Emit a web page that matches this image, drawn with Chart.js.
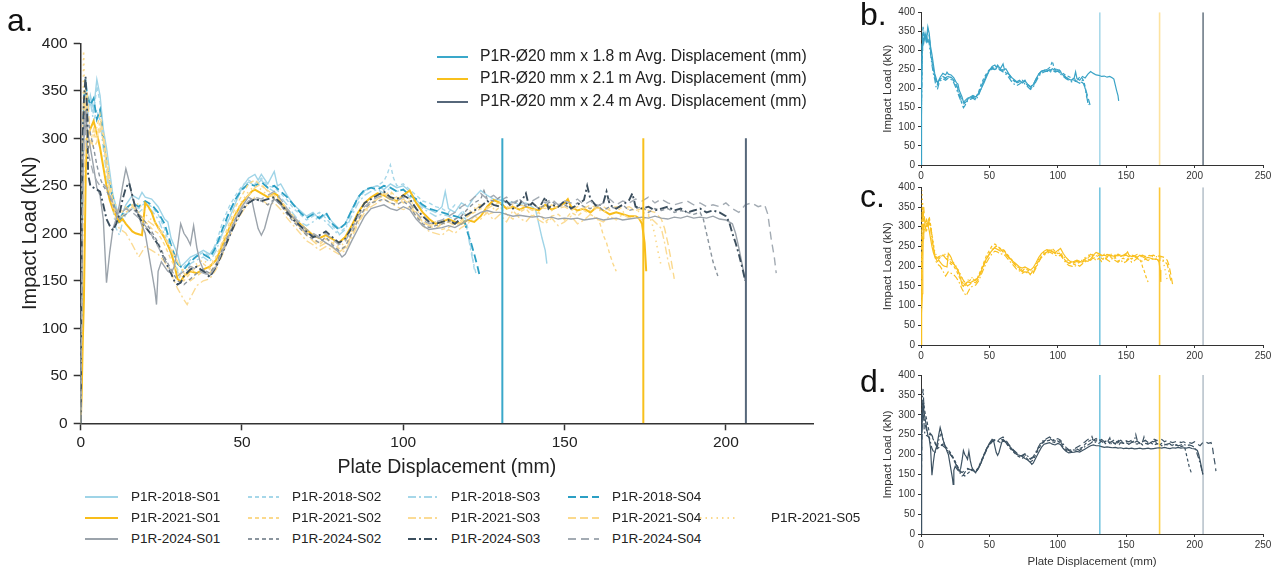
<!DOCTYPE html>
<html><head><meta charset="utf-8">
<script src="https://cdn.jsdelivr.net/npm/chart.js@4.4.1/dist/chart.umd.min.js"></script>
<style>
body{margin:0;width:1276px;height:570px;background:#fff;position:relative;overflow:hidden;font-family:"Liberation Sans",Arial,sans-serif;color:#222}
canvas{position:absolute}
.pl{position:absolute;font-size:32px;line-height:32px;color:#111}
.lg{position:absolute;white-space:nowrap;line-height:1}
svg{position:absolute}
</style></head><body>
<canvas id="cA" width="830" height="490" style="left:0;top:0"></canvas>
<canvas id="cB" width="426" height="190" style="left:850px;top:0"></canvas>
<canvas id="cC" width="426" height="192" style="left:850px;top:178px"></canvas>
<canvas id="cD" width="426" height="204" style="left:850px;top:366px"></canvas>
<div class="pl" style="left:7px;top:4px">a.</div>
<div class="pl" style="left:860px;top:-2px">b.</div>
<div class="pl" style="left:860px;top:180px">c.</div>
<div class="pl" style="left:860px;top:365px">d.</div>
<div id="legTop"></div>
<div id="legBottom"></div>
<script>
// ---------- DATA ----------
const xTicksMain = [0, 50, 100, 150, 200];
const xTicksSmall = [0, 50, 100, 150, 200, 250];
const yTicks = [0, 50, 100, 150, 200, 250, 300, 350, 400];
const avgDisp = [130.7, 174.4, 206.2];
const avgLabels = ['P1R-Ø20 mm x 1.8 m Avg. Displacement (mm)', 'P1R-Ø20 mm x 2.1 m Avg. Displacement (mm)', 'P1R-Ø20 mm x 2.4 m Avg. Displacement (mm)'];

const s2018_01 = [[0,0],[0.4,180],[0.8,300],[1.2,335],[2,320],[3,345],[4,330],[5,362],[6,345],[7,310],[8,290],[9,265],[10,240],[11,228],[12,215],[13,222],[14,230],[16,240],[18,236],[19,243],[20,238],[22,236],[24,228],[26,215],[27,212],[28,195],[30,178],[31,165],[32,168],[34,175],[36,178],[38,182],[40,178],[42,188],[44,200],[46,215],[48,232],[50,248],[52,258],[54,262],[55,256],[56,262],[58,252],[60,265],[61,250],[62,252],[64,240],[66,230],[68,224],[70,218],[72,222],[74,215],[76,220],[78,212],[80,205],[82,210],[84,225],[86,238],[88,245],[90,248],[92,250],[94,246],[96,252],[98,248],[100,250],[102,244],[104,235],[106,228],[108,225],[110,222],[112,228],[113,244],[114,226],[116,222],[118,232],[120,228],[122,238],[124,245],[126,240],[128,236],[130,235],[132,232],[134,233],[136,230],[138,232],[140,228],[141,225],[142,210],[143,195],[144,182],[144.5,168]];
const s2018_02 = [[0,0],[0.5,220],[1,310],[1.5,350],[2,330],[3,340],[4,325],[5,355],[6,338],[7,300],[8,270],[9,250],[10,232],[11,222],[12,210],[13,218],[14,225],[16,230],[18,226],[20,232],[22,228],[24,220],[26,205],[28,182],[29,170],[30,162],[31,158],[32,165],[34,172],[36,176],[38,180],[40,176],[42,190],[44,212],[46,228],[48,240],[50,250],[52,256],[54,252],[56,258],[58,250],[60,248],[62,242],[64,235],[66,226],[68,220],[70,214],[72,218],[74,222],[76,216],[78,208],[80,200],[82,206],[84,222],[86,236],[88,244],[90,248],[92,250],[94,255],[95,262],[96,272],[97,258],[98,250],[100,252],[102,246],[104,240],[106,234],[108,232],[110,228],[112,226],[114,222],[116,230],[118,226],[119,220],[120,205],[121,185],[122,162]];
const s2018_03 = [[0,0],[0.6,240],[1,320],[1.6,345],[2.4,330],[3,338],[4,318],[5,330],[6,318],[7,290],[8,262],[9,240],[10,225],[11,205],[12,198],[13,212],[14,220],[16,226],[18,222],[20,228],[22,224],[24,215],[26,198],[28,178],[30,160],[31,150],[32,155],[34,168],[36,172],[38,175],[40,170],[42,182],[44,200],[46,220],[48,236],[50,248],[52,254],[54,250],[56,256],[58,248],[60,244],[62,238],[64,230],[66,220],[68,212],[70,208],[72,212],[74,218],[76,212],[78,205],[80,198],[82,204],[84,218],[86,232],[88,240],[90,244],[92,246],[94,242],[96,248],[98,244],[100,246],[102,238],[104,232],[106,226],[108,222],[110,218],[112,220],[114,218],[116,214],[118,222],[119,215],[120,200],[121,180],[122,165],[122.5,158]];
const s2018_04 = [[0,0],[0.3,150],[0.7,290],[1,340],[1.5,362],[2,345],[3,335],[4,342],[5,320],[6,330],[7,300],[8,275],[9,252],[10,236],[11,218],[12,210],[13,220],[14,226],[16,232],[18,228],[20,234],[22,230],[24,222],[26,210],[28,188],[30,168],[32,162],[34,170],[36,176],[38,178],[40,174],[42,186],[44,205],[46,222],[48,236],[50,246],[52,252],[54,250],[56,254],[58,248],[60,250],[62,244],[64,238],[66,230],[68,222],[70,216],[72,220],[74,216],[76,222],[78,210],[80,204],[82,210],[84,224],[86,238],[88,246],[90,248],[92,246],[94,250],[96,248],[98,244],[100,246],[102,240],[104,236],[106,230],[108,226],[110,224],[112,222],[114,220],[116,218],[118,216],[119,212],[120,200],[121,190],[122,178],[123,165],[123.7,155]];

const s2021_01 = [[0,0],[0.3,30],[0.6,80],[1,130],[1.3,200],[1.6,270],[2,300],[3,310],[4,318],[5,305],[6,290],[7,270],[8,250],[9,235],[10,225],[11,218],[12,212],[13,215],[14,210],[15,206],[16,202],[17,200],[18,199],[19,198],[20,232],[21,228],[22,222],[23,212],[24,206],[26,195],[28,180],[29,168],[30,152],[31,149],[32,155],[34,160],[36,158],[38,162],[40,165],[42,172],[44,188],[46,205],[48,220],[50,232],[52,240],[53,244],[54,246],[56,242],[58,238],[60,242],[61,240],[62,232],[64,224],[66,216],[68,210],[70,204],[72,198],[74,195],[76,198],[78,194],[80,190],[82,196],[84,208],[86,222],[88,232],[90,238],[92,242],[94,240],[96,236],[98,234],[100,240],[102,245],[104,232],[106,222],[108,215],[110,210],[112,212],[114,215],[116,212],[118,210],[120,214],[122,212],[124,218],[126,228],[128,235],[130,232],[132,226],[134,228],[136,225],[138,228],[140,226],[142,224],[144,230],[146,225],[148,228],[150,232],[151,236],[152,228],[154,224],[156,226],[158,222],[160,228],[162,224],[164,220],[166,222],[168,220],[170,218],[172,218],[173,216],[174,210],[174.8,190],[175.3,160]];
const s2021_02 = [[0,0],[0.4,200],[0.8,330],[1.2,360],[1.6,340],[2,300],[3,290],[4,300],[5,312],[6,325],[7,305],[8,280],[9,255],[10,232],[11,220],[12,215],[14,222],[16,228],[18,222],[20,212],[22,205],[24,200],[26,188],[28,172],[30,160],[32,150],[34,158],[36,165],[38,168],[40,162],[42,175],[44,192],[46,210],[48,228],[50,240],[52,252],[54,256],[56,250],[58,245],[60,240],[62,235],[64,226],[66,218],[68,210],[70,202],[72,195],[74,188],[76,194],[78,190],[80,184],[82,186],[84,200],[86,215],[88,225],[90,232],[92,236],[94,240],[96,244],[98,238],[100,232],[102,234],[104,222],[106,212],[108,208],[110,210],[112,204],[114,206],[116,210],[118,214],[120,218],[122,222],[124,226],[126,220],[128,222],[130,228],[132,220],[134,215],[136,222],[138,226],[140,218],[142,222],[144,212],[146,218],[148,220],[150,214],[152,222],[154,218],[156,224],[158,220],[160,216],[161,210],[162,198],[163,190],[164,178],[165,168],[166,160]];
const s2021_03 = [[0,0],[0.5,150],[1,250],[1.5,300],[2,285],[3,295],[4,310],[5,300],[6,318],[7,300],[8,272],[9,248],[10,228],[11,212],[12,205],[14,200],[16,188],[18,175],[20,186],[22,182],[24,178],[26,170],[28,158],[30,142],[32,130],[33,125],[34,132],[36,145],[38,150],[40,152],[42,162],[44,178],[46,195],[48,210],[50,222],[52,232],[54,238],[56,236],[58,230],[60,232],[62,225],[64,216],[66,208],[68,200],[70,192],[72,188],[74,182],[76,186],[78,182],[80,178],[82,182],[84,195],[86,210],[88,222],[90,228],[92,232],[94,236],[96,232],[98,228],[100,225],[102,228],[104,218],[106,208],[108,202],[110,200],[112,198],[114,204],[116,200],[118,206],[120,210],[122,218],[124,215],[126,222],[128,214],[130,220],[132,212],[134,224],[136,216],[138,212],[140,220],[142,214],[144,210],[146,216],[148,208],[150,212],[152,218],[154,210],[156,214],[158,220],[160,215],[162,212],[164,218],[166,214],[168,220],[170,216],[172,218],[174,214],[176,218],[178,212],[180,205],[181,190],[182,172],[183,158]];
const s2021_04 = [[0,0],[0.4,180],[0.8,280],[1.2,340],[1.6,320],[2,350],[3,300],[4,290],[5,296],[6,310],[7,298],[8,270],[9,245],[10,230],[11,224],[12,220],[14,226],[16,230],[18,220],[20,215],[22,210],[24,205],[26,196],[28,182],[30,170],[32,158],[34,150],[36,155],[38,160],[40,158],[42,168],[44,185],[46,202],[48,218],[50,230],[52,240],[54,248],[56,252],[58,244],[60,236],[62,230],[64,222],[66,214],[68,206],[70,198],[72,192],[74,186],[76,190],[78,185],[80,180],[82,185],[84,198],[86,212],[88,224],[90,230],[92,236],[94,242],[96,238],[98,232],[100,236],[102,230],[104,220],[106,212],[108,208],[110,205],[112,210],[114,212],[116,208],[118,212],[120,218],[122,224],[124,230],[126,226],[128,230],[130,232],[132,228],[134,226],[136,230],[138,228],[140,224],[142,228],[144,226],[146,230],[148,226],[150,228],[152,224],[154,228],[156,226],[158,230],[160,226],[162,228],[164,224],[166,228],[168,226],[170,228],[172,224],[174,226],[176,224],[178,222],[180,215],[181,205],[182,190],[183,172],[184,152]];
const s2021_05 = [[0,0],[0.3,100],[0.6,250],[0.9,392],[1.3,330],[1.8,305],[2.4,300],[3,295],[4,305],[5,300],[6,318],[7,305],[8,282],[9,258],[10,238],[11,228],[12,222],[14,228],[16,224],[18,232],[20,220],[22,214],[24,208],[26,198],[28,186],[30,170],[32,160],[34,164],[36,168],[38,172],[40,166],[42,176],[44,190],[46,206],[48,222],[50,234],[52,244],[54,250],[56,246],[58,240],[60,238],[62,230],[64,222],[66,215],[68,208],[70,200],[72,194],[74,190],[76,196],[78,192],[80,186],[82,190],[84,202],[86,218],[88,230],[90,236],[92,240],[94,238],[96,242],[98,236],[100,240],[102,236],[104,226],[106,216],[108,210],[110,212],[112,208],[114,214],[116,210],[118,216],[120,222],[122,226],[124,232],[126,228],[128,226],[130,230],[132,226],[134,230],[136,224],[138,228],[140,232],[142,226],[144,230],[146,224],[148,228],[150,230],[152,226],[154,222],[156,228],[158,224],[160,226],[162,222],[164,226],[166,228],[168,222],[170,226],[172,224],[174,222],[176,220],[177,212],[178,198],[179,180],[180,165]];

const s2024_01 = [[0,0],[0.3,160],[0.6,250],[1,300],[1.5,330],[2,310],[3,290],[4,270],[5,248],[6,240],[7,215],[8,148],[9,180],[10,205],[11,215],[12,230],[13,250],[14,268],[15,255],[16,238],[17,228],[18,218],[19,208],[20,200],[21,180],[22,160],[23,140],[23.5,125],[24,160],[25,170],[26,165],[27,160],[28,158],[29,165],[30,185],[31,210],[32,200],[33,195],[34,188],[35,208],[36,185],[37,170],[38,162],[39,158],[40,155],[42,165],[44,180],[46,198],[48,215],[50,228],[52,238],[53,236],[54,220],[55,205],[56,198],[57,205],[58,218],[59,230],[60,236],[62,230],[64,224],[66,216],[68,208],[70,200],[72,198],[74,195],[76,190],[78,186],[80,180],[81,175],[82,178],[84,192],[86,205],[88,218],[90,226],[92,228],[94,230],[96,226],[98,224],[100,228],[102,225],[104,215],[106,208],[108,204],[110,205],[112,206],[114,208],[116,206],[118,210],[120,214],[122,218],[124,222],[126,224],[128,222],[130,222],[132,220],[134,218],[136,219],[138,218],[140,217],[142,218],[144,216],[146,217],[148,215],[150,216],[152,215],[154,216],[156,214],[158,215],[160,216],[162,214],[164,215],[166,216],[168,214],[170,215],[172,216],[174,217],[176,216],[178,218],[180,216],[182,215],[184,217],[186,216],[188,218],[190,216],[192,217],[194,216],[196,218],[198,215],[200,214],[202,210],[203,200],[204,185],[205,168],[206,150]];
const s2024_02 = [[0,0],[0.4,200],[0.8,300],[1.2,330],[1.6,310],[2,325],[3,305],[4,290],[5,272],[6,258],[7,250],[8,245],[9,238],[10,230],[11,222],[12,215],[14,220],[16,226],[18,220],[20,212],[22,202],[24,190],[26,175],[28,162],[30,150],[32,146],[34,152],[36,158],[38,162],[40,158],[42,168],[44,184],[46,200],[48,215],[50,226],[52,232],[54,236],[56,234],[58,230],[60,236],[62,230],[64,220],[66,212],[68,205],[70,198],[72,194],[74,190],[76,196],[78,188],[80,182],[82,186],[84,200],[86,214],[88,226],[90,232],[92,234],[94,236],[96,232],[98,230],[100,234],[102,228],[104,218],[106,210],[108,206],[110,208],[112,210],[114,212],[116,215],[118,218],[120,226],[122,232],[124,236],[125,245],[126,236],[128,234],[130,238],[132,232],[134,230],[136,236],[138,228],[140,232],[142,226],[144,230],[146,234],[148,228],[150,230],[152,226],[154,232],[156,228],[158,226],[160,230],[162,224],[164,228],[166,226],[168,230],[170,224],[172,226],[174,228],[176,222],[178,226],[180,224],[182,226],[184,222],[186,224],[188,222],[190,220],[192,222],[193,215],[194,200],[195,185],[196,170],[197.5,155]];
const s2024_03 = [[0,0],[0.3,200],[0.6,300],[1,340],[1.5,365],[2,330],[2.3,262],[3,250],[4,248],[5,246],[6,244],[7,230],[8,215],[9,208],[10,203],[11,210],[12,220],[13,236],[14,248],[15,253],[16,240],[17,226],[18,218],[19,212],[20,207],[22,198],[24,188],[26,172],[28,158],[29,150],[30,146],[31,148],[32,155],[34,162],[36,165],[38,160],[40,154],[42,165],[44,180],[46,196],[48,212],[50,224],[52,232],[54,236],[56,234],[58,236],[60,238],[62,232],[64,222],[66,214],[68,208],[70,202],[72,196],[74,198],[76,202],[78,196],[80,190],[82,194],[84,206],[86,220],[88,232],[90,236],[92,240],[94,244],[96,238],[98,236],[100,240],[102,236],[104,226],[106,218],[108,212],[110,210],[112,212],[114,214],[116,210],[118,216],[120,220],[122,224],[124,228],[126,234],[128,230],[130,228],[132,234],[134,226],[136,230],[138,242],[139,228],[140,232],[142,226],[144,238],[145,226],[146,230],[148,228],[150,234],[152,226],[154,230],[156,235],[157,250],[158,236],[160,228],[162,232],[163,244],[164,230],[166,226],[168,230],[170,235],[171,242],[172,228],[174,226],[176,228],[178,224],[180,226],[182,228],[184,224],[186,226],[188,222],[190,224],[192,226],[194,222],[196,224],[198,222],[200,218],[201,212],[202,200],[203,190],[204,178],[205,165],[206,150]];
const s2024_04 = [[0,0],[0.4,180],[0.8,280],[1.2,320],[1.6,300],[2,290],[3,275],[4,262],[5,255],[6,250],[7,252],[8,248],[9,240],[10,232],[11,225],[12,220],[14,226],[16,222],[18,216],[20,208],[22,198],[24,186],[26,172],[28,160],[30,155],[32,160],[34,165],[36,162],[38,158],[40,156],[42,166],[44,182],[46,198],[48,214],[50,226],[52,234],[54,238],[56,236],[58,240],[60,244],[62,236],[64,226],[66,218],[68,210],[70,204],[72,200],[74,196],[76,200],[78,194],[80,188],[82,192],[84,204],[86,218],[88,228],[90,234],[92,238],[94,240],[96,236],[98,234],[100,238],[102,232],[104,222],[106,214],[108,210],[110,212],[112,214],[114,218],[116,222],[118,228],[120,232],[122,238],[124,242],[126,236],[128,240],[130,234],[132,238],[134,232],[136,236],[138,230],[140,234],[142,238],[144,232],[146,236],[148,230],[150,234],[152,232],[154,236],[156,230],[158,234],[160,228],[162,232],[164,236],[166,230],[168,234],[170,232],[172,236],[174,234],[176,238],[178,232],[180,236],[182,232],[184,230],[186,232],[188,234],[190,230],[192,232],[194,228],[196,230],[198,228],[200,232],[202,226],[204,222],[206,230],[208,232],[210,228],[212,230],[213,220],[214,195],[215,175],[215.6,158]];

// ---------- STYLES ----------
const FAM = "'Liberation Sans', Arial, sans-serif";
const series = [
  {name:'P1R-2018-S01', data:s2018_01, color:'#9fd4e7', dash:[], w:1.4, grp:0},
  {name:'P1R-2018-S02', data:s2018_02, color:'#a6d7e9', dash:[4,3], w:1.4, grp:0},
  {name:'P1R-2018-S03', data:s2018_03, color:'#a6d7e9', dash:[8,3,2,3], w:1.4, grp:0},
  {name:'P1R-2018-S04', data:s2018_04, color:'#2b9fc4', dash:[8,4], w:1.8, grp:0},
  {name:'P1R-2021-S01', data:s2021_01, color:'#f8bd1a', dash:[], w:2, grp:1},
  {name:'P1R-2021-S02', data:s2021_02, color:'#fbd98c', dash:[4,3], w:1.4, grp:1},
  {name:'P1R-2021-S03', data:s2021_03, color:'#fbdb95', dash:[8,3,2,3], w:1.4, grp:1},
  {name:'P1R-2021-S04', data:s2021_04, color:'#fbd98c', dash:[8,4], w:1.4, grp:1},
  {name:'P1R-2021-S05', data:s2021_05, color:'#fbd98c', dash:[1.5,4], w:1.6, grp:1},
  {name:'P1R-2024-S01', data:s2024_01, color:'#9ba3ab', dash:[], w:1.4, grp:2},
  {name:'P1R-2024-S02', data:s2024_02, color:'#8b959e', dash:[4,3], w:1.4, grp:2},
  {name:'P1R-2024-S03', data:s2024_03, color:'#3b4e5d', dash:[8,3,2,3], w:1.9, grp:2},
  {name:'P1R-2024-S04', data:s2024_04, color:'#a3abb3', dash:[8,5], w:1.4, grp:2}
];
const avgColorsMain = ['#3aa8ca', '#f8c01c', '#56677a'];
const avgColorsSmall = [
  ['#a9d9ea', '#fde3a0', '#6e7b87'],
  ['#79c6e0', '#fcc73a', '#b9c3cc'],
  ['#79c6e0', '#fcd04a', '#b9c3cc']
];
const groupColors = ['#3aa3c6', '#f9c020', '#3d5262'];

const toXY = a => a.map(p => ({x:p[0], y:p[1]}));

function axisCfg(o) {
  return {
    type:'linear', min:o.min, max:o.max,
    afterFit: o.fit,
    afterBuildTicks: s => { s.ticks = o.ticks.map(v => ({value:v})); },
    grid:{display:true, drawOnChartArea:false, drawTicks:true, tickLength:o.tl, tickColor:'#333', tickWidth:o.bw},
    border:{display:true, color:'#333', width:o.bw},
    ticks:{color:o.tc||'#222', font:{size:o.fs, family:FAM}, padding:o.tp, maxRotation:0, autoSkip:false},
    title:{display:!!o.title, text:o.title||'', color:o.tc||'#222', font:{size:o.ts, family:FAM, lineHeight:1.2}, padding:o.tpad||0}
  };
}

function baseOpts(pad, xAxis, yAxis) {
  return {
    responsive:false, animation:false, events:[],
    layout:{padding:pad},
    plugins:{legend:{display:false}, tooltip:{enabled:false}},
    elements:{point:{radius:0}, line:{tension:0}},
    scales:{x:xAxis, y:yAxis}
  };
}

// ---------- MAIN CHART ----------
const mainSets = series.map((s, i) => ({
  data: toXY(s.data), borderColor:s.color, borderWidth:s.w, borderDash:s.dash,
  fill:false, order: 100 - i
}));
avgDisp.forEach((d, i) => mainSets.push({
  data: toXY([[d, 0], [d, 300]]), borderColor: avgColorsMain[i], borderWidth: 2, fill:false, order: 10 - i
}));
new Chart(document.getElementById('cA'), {
  type:'line', data:{datasets:mainSets},
  options: baseOpts({left:0, top:43.3, right:17, bottom:0},
    axisCfg({min:0, max:227, ticks:xTicksMain, fit:s => { s.height = 490 - 423.3; }, tl:7, bw:1.5, fs:15.5, tp:3, title:'Plate Displacement (mm)', ts:19.5, tpad:{top:0, bottom:11}}),
    axisCfg({min:0, max:400, ticks:yTicks, fit:s => { s.width = 80.7; }, tl:7, bw:1.5, fs:15.5, tp:6, title:'Impact Load (kN)', ts:20, tpad:{top:18, bottom:0}}))
});

// ---------- SMALL CHARTS ----------
function smallChart(id, grp, pad, xh, showXTitle) {
  const sets = series.filter(s => s.grp === grp).map((s, i) => ({
    data: toXY(s.data), borderColor: groupColors[grp], borderWidth: 1.2, borderDash: s.dash.length ? s.dash.map(v => v * 0.8) : [], fill:false, order: 50 - i
  }));
  avgDisp.forEach((d, i) => sets.push({
    data: toXY([[d, 0], [d, 400]]), borderColor: avgColorsSmall[grp][i], borderWidth: 1.6, fill:false, order: 100
  }));
  new Chart(document.getElementById(id), {
    type:'line', data:{datasets:sets},
    options: baseOpts(pad,
      axisCfg({min:0, max:250, ticks:xTicksSmall, fit:s => { s.height = xh; }, tl:3, bw:1, fs:10, tp:2, tc:'#333', title: showXTitle ? 'Plate Displacement (mm)' : '', ts:11.5, tpad:{top:0, bottom:1}}),
      axisCfg({min:0, max:400, ticks:yTicks, fit:s => { s.width = 71; }, tl:3, bw:1, fs:10, tp:3, tc:'#333', title:'Impact Load (kN)', ts:11.5, tpad:{top:31, bottom:0}}))
  });
}
smallChart('cB', 0, {left:0, top:12.3, right:13, bottom:0}, 25, false);
smallChart('cC', 1, {left:0, top:9.3, right:13, bottom:0}, 25, false);
smallChart('cD', 2, {left:0, top:9, right:13, bottom:0}, 36, true);

// ---------- LEGENDS (HTML text) ----------
function lineSvg(x1, x2, yc, color, dash, w) {
  const wdt = x2 - x1;
  return '<svg width="' + wdt + '" height="8" style="left:' + x1 + 'px;top:' + (yc - 4) + 'px"><line x1="0" y1="4" x2="' + wdt + '" y2="4" stroke="' + color + '" stroke-width="' + w + '" stroke-dasharray="' + (dash.length ? dash.join(',') : 'none') + '"/></svg>';
}
let legTopHtml = '';
avgLabels.forEach((t, i) => {
  const yc = [56.7, 79, 101.7][i];
  legTopHtml += lineSvg(437, 468, yc, avgColorsMain[i], [], 2);
  legTopHtml += '<div class="lg" style="left:480px;top:' + (yc - 8.7) + 'px;font-size:15.7px">' + t + '</div>';
});
document.getElementById('legTop').innerHTML = legTopHtml;

const legRows = [497, 518, 539];
const legLineX = [[85, 118], [248, 279], [408, 439], [568, 599], [700, 738]];
const legTextX = [131, 292, 451, 612, 771];
let legBotHtml = '';
const cnt = [0, 0, 0];
series.forEach(s => {
  const c = cnt[s.grp]++;
  const yc = legRows[s.grp];
  legBotHtml += lineSvg(legLineX[c][0], legLineX[c][1], yc, s.color, s.dash, Math.max(s.w, 1.8));
  legBotHtml += '<div class="lg" style="left:' + legTextX[c] + 'px;top:' + (yc - 7.5) + 'px;font-size:13.5px">' + s.name + '</div>';
});
document.getElementById('legBottom').innerHTML = legBotHtml;
</script>
</body></html>
